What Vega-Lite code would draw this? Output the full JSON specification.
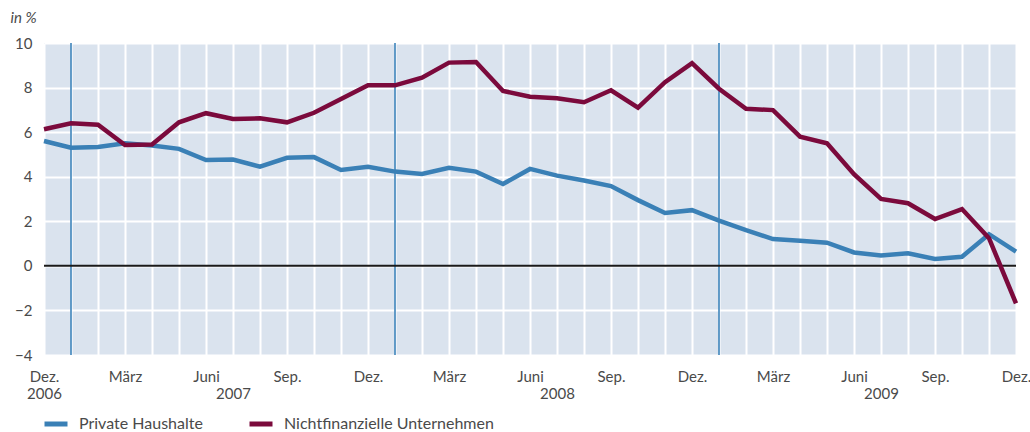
{
  "$schema": "https://vega.github.io/schema/vega-lite/v6.json",
  "width": 972,
  "height": 312,
  "autosize": "none",
  "padding": {"left": 44, "top": 43, "right": 14, "bottom": 77},
  "background": "white",
  "config": {
    "view": {"fill": "#dae3ee", "stroke": null},
    "font": "Lato",
    "axisY": {
      "grid": true, "gridColor": "white", "gridWidth": 2, "gridOpacity": 1,
      "domain": false, "ticks": false,
      "values": [-4,-2,0,2,4,6,8,10],
      "labelFontSize": 15, "labelColor": "#4a4a4a", "labelPadding": 12,
      "titleAngle": 0, "titleAlign": "left", "titleBaseline": "middle",
      "titleX": -34, "titleY": -26, "titleFontStyle": "italic", "titleFontWeight": "normal",
      "titleFontSize": 15, "titleColor": "#4a4a4a"
    }
  },
  "datasets": {
    "years": [{"m": 1}, {"m": 13}, {"m": 25}],
    "zero": [{"v": 0}],
    "series": [
      {"m": 0, "s": "Private Haushalte", "v": 5.6},
      {"m": 1, "s": "Private Haushalte", "v": 5.3},
      {"m": 2, "s": "Private Haushalte", "v": 5.33},
      {"m": 3, "s": "Private Haushalte", "v": 5.5},
      {"m": 4, "s": "Private Haushalte", "v": 5.4},
      {"m": 5, "s": "Private Haushalte", "v": 5.25},
      {"m": 6, "s": "Private Haushalte", "v": 4.75},
      {"m": 7, "s": "Private Haushalte", "v": 4.77},
      {"m": 8, "s": "Private Haushalte", "v": 4.45},
      {"m": 9, "s": "Private Haushalte", "v": 4.85},
      {"m": 10, "s": "Private Haushalte", "v": 4.88},
      {"m": 11, "s": "Private Haushalte", "v": 4.3},
      {"m": 12, "s": "Private Haushalte", "v": 4.45},
      {"m": 13, "s": "Private Haushalte", "v": 4.23},
      {"m": 14, "s": "Private Haushalte", "v": 4.12},
      {"m": 15, "s": "Private Haushalte", "v": 4.4},
      {"m": 16, "s": "Private Haushalte", "v": 4.23},
      {"m": 17, "s": "Private Haushalte", "v": 3.67},
      {"m": 18, "s": "Private Haushalte", "v": 4.35},
      {"m": 19, "s": "Private Haushalte", "v": 4.05},
      {"m": 20, "s": "Private Haushalte", "v": 3.83},
      {"m": 21, "s": "Private Haushalte", "v": 3.58},
      {"m": 22, "s": "Private Haushalte", "v": 2.95},
      {"m": 23, "s": "Private Haushalte", "v": 2.37},
      {"m": 24, "s": "Private Haushalte", "v": 2.5},
      {"m": 25, "s": "Private Haushalte", "v": 2.03},
      {"m": 26, "s": "Private Haushalte", "v": 1.6},
      {"m": 27, "s": "Private Haushalte", "v": 1.2},
      {"m": 28, "s": "Private Haushalte", "v": 1.13},
      {"m": 29, "s": "Private Haushalte", "v": 1.04},
      {"m": 30, "s": "Private Haushalte", "v": 0.6},
      {"m": 31, "s": "Private Haushalte", "v": 0.47},
      {"m": 32, "s": "Private Haushalte", "v": 0.56},
      {"m": 33, "s": "Private Haushalte", "v": 0.31},
      {"m": 34, "s": "Private Haushalte", "v": 0.41},
      {"m": 35, "s": "Private Haushalte", "v": 1.42},
      {"m": 36, "s": "Private Haushalte", "v": 0.64},
      {"m": 0, "s": "Nichtfinanzielle Unternehmen", "v": 6.13},
      {"m": 1, "s": "Nichtfinanzielle Unternehmen", "v": 6.4},
      {"m": 2, "s": "Nichtfinanzielle Unternehmen", "v": 6.33},
      {"m": 3, "s": "Nichtfinanzielle Unternehmen", "v": 5.42},
      {"m": 4, "s": "Nichtfinanzielle Unternehmen", "v": 5.45},
      {"m": 5, "s": "Nichtfinanzielle Unternehmen", "v": 6.44},
      {"m": 6, "s": "Nichtfinanzielle Unternehmen", "v": 6.85},
      {"m": 7, "s": "Nichtfinanzielle Unternehmen", "v": 6.59},
      {"m": 8, "s": "Nichtfinanzielle Unternehmen", "v": 6.62},
      {"m": 9, "s": "Nichtfinanzielle Unternehmen", "v": 6.44},
      {"m": 10, "s": "Nichtfinanzielle Unternehmen", "v": 6.87},
      {"m": 11, "s": "Nichtfinanzielle Unternehmen", "v": 7.49},
      {"m": 12, "s": "Nichtfinanzielle Unternehmen", "v": 8.1},
      {"m": 13, "s": "Nichtfinanzielle Unternehmen", "v": 8.1},
      {"m": 14, "s": "Nichtfinanzielle Unternehmen", "v": 8.44},
      {"m": 15, "s": "Nichtfinanzielle Unternehmen", "v": 9.12},
      {"m": 16, "s": "Nichtfinanzielle Unternehmen", "v": 9.15},
      {"m": 17, "s": "Nichtfinanzielle Unternehmen", "v": 7.85},
      {"m": 18, "s": "Nichtfinanzielle Unternehmen", "v": 7.59},
      {"m": 19, "s": "Nichtfinanzielle Unternehmen", "v": 7.52},
      {"m": 20, "s": "Nichtfinanzielle Unternehmen", "v": 7.34},
      {"m": 21, "s": "Nichtfinanzielle Unternehmen", "v": 7.88},
      {"m": 22, "s": "Nichtfinanzielle Unternehmen", "v": 7.1},
      {"m": 23, "s": "Nichtfinanzielle Unternehmen", "v": 8.24},
      {"m": 24, "s": "Nichtfinanzielle Unternehmen", "v": 9.1},
      {"m": 25, "s": "Nichtfinanzielle Unternehmen", "v": 7.95},
      {"m": 26, "s": "Nichtfinanzielle Unternehmen", "v": 7.05},
      {"m": 27, "s": "Nichtfinanzielle Unternehmen", "v": 6.99},
      {"m": 28, "s": "Nichtfinanzielle Unternehmen", "v": 5.8},
      {"m": 29, "s": "Nichtfinanzielle Unternehmen", "v": 5.5},
      {"m": 30, "s": "Nichtfinanzielle Unternehmen", "v": 4.11},
      {"m": 31, "s": "Nichtfinanzielle Unternehmen", "v": 3.0},
      {"m": 32, "s": "Nichtfinanzielle Unternehmen", "v": 2.81},
      {"m": 33, "s": "Nichtfinanzielle Unternehmen", "v": 2.1},
      {"m": 34, "s": "Nichtfinanzielle Unternehmen", "v": 2.55},
      {"m": 35, "s": "Nichtfinanzielle Unternehmen", "v": 1.24},
      {"m": 36, "s": "Nichtfinanzielle Unternehmen", "v": -1.68}
    ]
  },
  "layer": [
    {
      "data": {"name": "years"},
      "mark": {"type": "rule", "color": "#2f7bb6", "strokeWidth": 1.5},
      "encoding": {
        "x": {
          "field": "m", "type": "quantitative", "scale": {"domain": [0, 36], "nice": false, "zero": false},
          "axis": {
            "title": null,
            "grid": true, "gridColor": "white", "gridWidth": 2, "gridOpacity": 1,
            "domain": false, "ticks": false,
            "values": [0,1,2,3,4,5,6,7,8,9,10,11,12,13,14,15,16,17,18,19,20,21,22,23,24,25,26,27,28,29,30,31,32,33,34,35,36],
            "labelExpr": "datum.value % 3 == 0 ? [['Dez.','März','Juni','Sep.'][(datum.value/3)%4], datum.value == 0 ? '2006' : ''] : (datum.value % 12 == 7 ? ['', '' + (2007 + floor(datum.value/12))] : '')",
            "labelFlush": false, "labelOverlap": false, "labelBound": false,
            "labelFontSize": 15, "labelColor": "#4a4a4a", "labelPadding": 14, "labelLineHeight": 17
          }
        }
      }
    },
    {
      "data": {"name": "zero"},
      "mark": {"type": "rule", "color": "#1a1a1a", "strokeWidth": 2},
      "encoding": {
        "y": {"field": "v", "type": "quantitative", "title": "in %", "scale": {"domain": [-4, 10], "nice": false}}
      }
    },
    {
      "data": {"name": "series"},
      "mark": {"type": "line", "strokeWidth": 4.5, "strokeJoin": "miter"},
      "encoding": {
        "x": {
          "field": "m", "type": "quantitative", "scale": {"domain": [0, 36], "nice": false, "zero": false},
          "axis": {
            "title": null,
            "grid": true, "gridColor": "white", "gridWidth": 2, "gridOpacity": 1,
            "domain": false, "ticks": false,
            "values": [0,1,2,3,4,5,6,7,8,9,10,11,12,13,14,15,16,17,18,19,20,21,22,23,24,25,26,27,28,29,30,31,32,33,34,35,36],
            "labelExpr": "datum.value % 3 == 0 ? [['Dez.','März','Juni','Sep.'][(datum.value/3)%4], datum.value == 0 ? '2006' : ''] : (datum.value % 12 == 7 ? ['', '' + (2007 + floor(datum.value/12))] : '')",
            "labelFlush": false, "labelOverlap": false, "labelBound": false,
            "labelFontSize": 15, "labelColor": "#4a4a4a", "labelPadding": 14, "labelLineHeight": 17
          }
        },
        "y": {"field": "v", "type": "quantitative", "title": "in %", "scale": {"domain": [-4, 10], "nice": false}},
        "color": {
          "field": "s", "type": "nominal",
          "scale": {"domain": ["Private Haushalte", "Nichtfinanzielle Unternehmen"], "range": ["#3a80b6", "#7b0a3c"]},
          "legend": {
            "title": null, "orient": "none", "direction": "horizontal",
            "legendX": -2, "legendY": 367,
            "symbolType": "stroke", "symbolSize": 529, "symbolStrokeWidth": 5,
            "labelFontSize": 16, "labelColor": "#4a4a4a", "labelOffset": 9,
            "columnPadding": 36, "labelLimit": 400
          }
        }
      }
    }
  ]
}
